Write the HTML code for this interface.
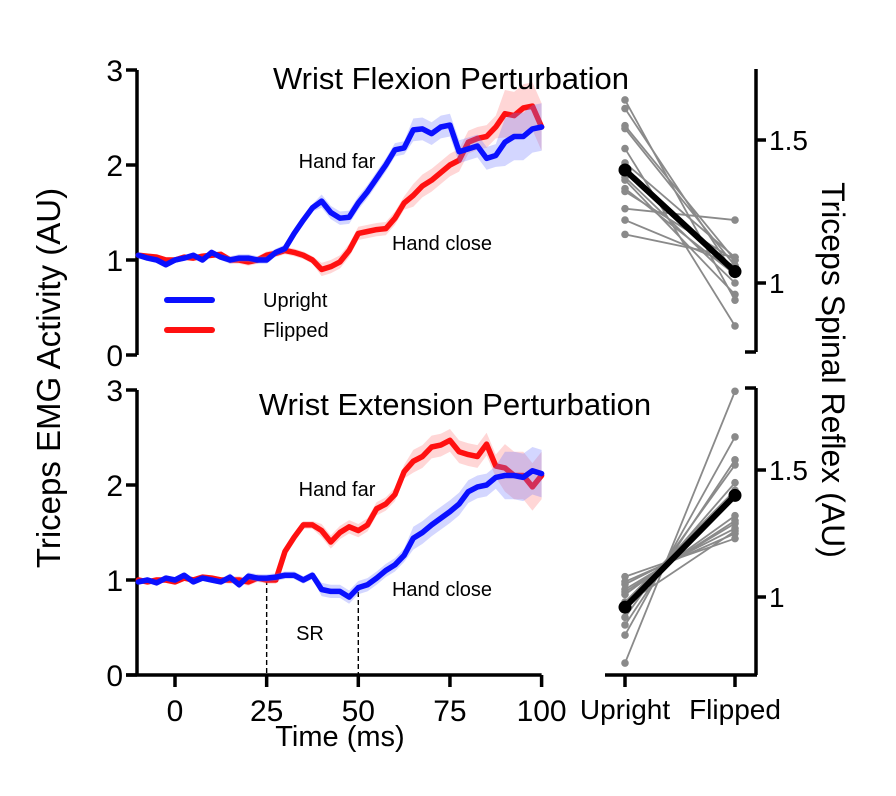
<!DOCTYPE html>
<html><head><meta charset="utf-8"><style>
html,body{margin:0;padding:0;background:#fff;}
svg{display:block;font-family:"Liberation Sans",Arial,sans-serif;}
</style></head><body>
<svg id="fig" width="896" height="796" viewBox="0 0 896 796" xmlns="http://www.w3.org/2000/svg"></svg>
<script>
// ---- data ----
const times = [-10,-7.5,-5,-2.5,0,2.5,5,7.5,10,12.5,15,17.5,20,22.5,25,27.5,30,32.5,35,37.5,40,42.5,45,47.5,50,52.5,55,57.5,60,62.5,65,67.5,70,72.5,75,77.5,80,82.5,85,87.5,90,92.5,95,97.5,100];
const flexUpright = [1.05,1.02,1.0,0.95,1.0,1.02,1.05,1.0,1.08,1.03,1.0,1.02,1.02,1.0,1.0,1.08,1.12,1.28,1.42,1.55,1.62,1.5,1.44,1.45,1.6,1.72,1.86,2.0,2.16,2.18,2.37,2.38,2.33,2.4,2.42,2.14,2.17,2.2,2.07,2.1,2.24,2.3,2.3,2.38,2.4];
const flexFlipped = [1.05,1.04,1.03,1.0,1.0,1.03,1.02,1.04,1.05,1.06,1.0,1.0,0.98,1.0,1.05,1.07,1.1,1.08,1.05,1.0,0.9,0.93,0.98,1.1,1.28,1.3,1.32,1.33,1.44,1.6,1.68,1.78,1.84,1.92,2.0,2.05,2.24,2.28,2.3,2.4,2.54,2.52,2.6,2.62,2.4];
const extUpright = [0.98,1.0,0.97,1.02,1.0,1.05,0.98,1.02,1.0,0.98,1.03,0.95,1.04,1.02,1.02,1.03,1.05,1.05,1.0,1.05,0.9,0.88,0.88,0.82,0.92,0.95,1.02,1.1,1.16,1.26,1.44,1.5,1.58,1.65,1.72,1.8,1.93,1.98,2.0,2.08,2.1,2.1,2.08,2.15,2.12];
const extFlipped = [1.0,0.98,1.0,1.0,0.98,1.02,1.0,1.03,1.02,1.0,1.0,1.0,0.98,1.02,1.0,1.0,1.3,1.45,1.58,1.58,1.52,1.4,1.5,1.56,1.52,1.58,1.75,1.8,1.9,2.14,2.25,2.3,2.4,2.42,2.47,2.35,2.32,2.3,2.43,2.2,2.18,2.1,2.1,1.98,2.1];
const semSteps = [0.03,0.04,0.07,0.12,0.25]; // band half-width per 25ms segment
const timeTicks = [0,25,50,75,100];
const emgTicks = [0,1,2,3];
const flexUprightPts = [1.64,1.61,1.55,1.54,1.47,1.42,1.37,1.36,1.33,1.32,1.26,1.22,1.17];
const flexFlippedPts = [0.94,1.03,1.08,1.06,0.85,1.09,1.0,0.96,1.03,1.08,1.22,1.06,1.09];
const flexMeans = [1.395,1.04];
const extUprightPts = [0.74,0.85,0.89,0.92,0.95,0.98,1.01,1.03,1.05,1.06,1.08,1.02,0.97];
const extFlippedPts = [1.81,1.63,1.54,1.52,1.45,1.42,1.32,1.29,1.27,1.25,1.23,1.30,1.26];
const extMeans = [0.96,1.40];
const reflexTicks = [1,1.5];

// ---- helpers ----
const svg = document.getElementById('fig');
const NS = 'http://www.w3.org/2000/svg';
function mk(tag, attrs, parent){const e=document.createElementNS(NS,tag);for(const k in attrs)e.setAttribute(k,attrs[k]);(parent||svg).appendChild(e);return e;}
function txt(s,x,y,size,anchor,parent){const t=mk('text',{x:x,y:y,'font-size':size,'text-anchor':anchor||'middle',fill:'#000'},parent);t.textContent=s;return t;}
const xT = t => 175 + (t)*3.666;
function yTop(v){return 355 - v*95;}
function yBot(v){return 675 - v*95;}
const yRT = v => 283 - (v-1)*286;
const yRB = v => 597 - (v-1)*254;

function drawSeries(vals, yf, color, band, name){
  const g=mk('g',{});
  
  
  let up='',dn='';
  times.forEach((t,i)=>{const s=semSteps[Math.min(4,Math.max(0,Math.floor((t+10)/25)))];up+=(i?'L':'M')+xT(t)+','+yf(vals[i]+s);});
  for(let i=times.length-1;i>=0;i--){const s=semSteps[Math.min(4,Math.max(0,Math.floor((times[i]+10)/25)))];dn+='L'+xT(times[i])+','+yf(vals[i]-s);}
  const b=mk('path',{d:up+dn+'Z',fill:band,stroke:'none'},g);
  
  
  let d='';times.forEach((t,i)=>{d+=(i?'L':'M')+xT(t)+','+yf(vals[i]);});
  const l=mk('path',{d:d,fill:'none',stroke:color,'stroke-width':5.5,'stroke-linejoin':'round','stroke-linecap':'round'},g);
  
  
}

// ---- top-left panel ----
const ax1=mk('g',{stroke:'#000','stroke-width':3.5});


mk('line',{x1:137,y1:yTop(3),x2:137,y2:yTop(0)},ax1);
emgTicks.forEach(v=>{mk('line',{x1:126,y1:yTop(v),x2:137,y2:yTop(v)},ax1);});
emgTicks.forEach(v=>{const t=txt(String(v),123,yTop(v)+11,30,'end');});
drawSeries(flexFlipped,yTop,'#ff1010','rgba(255,120,120,0.3)','flexion-flipped');
drawSeries(flexUpright,yTop,'#0a10ff','rgba(110,120,255,0.3)','flexion-upright');
let t1=txt('Wrist Flexion Perturbation',451,89,31);
let a1=txt('Hand far',337,168,20);
let a2=txt('Hand close',442,250,20);
// legend
const lg=mk('g',{});


mk('line',{x1:167,y1:300,x2:212,y2:300,stroke:'#0a10ff','stroke-width':6,'stroke-linecap':'round'},lg);
mk('line',{x1:167,y1:330,x2:212,y2:330,stroke:'#ff1010','stroke-width':6,'stroke-linecap':'round'},lg);
txt('Upright',263,307,20,'start',lg);
txt('Flipped',263,337,20,'start',lg);

// ---- bottom-left panel ----
const ax2=mk('g',{stroke:'#000','stroke-width':3.5});


mk('line',{x1:137,y1:yBot(3),x2:137,y2:yBot(0)},ax2);
mk('line',{x1:126,y1:yBot(0),x2:xT(100),y2:yBot(0)},ax2);
emgTicks.forEach(v=>{mk('line',{x1:126,y1:yBot(v),x2:137,y2:yBot(v)},ax2);});
timeTicks.forEach(v=>{mk('line',{x1:xT(v),y1:675,x2:xT(v),y2:687},ax2);});
emgTicks.forEach(v=>{const t=txt(String(v),123,yBot(v)+11,30,'end');});
timeTicks.forEach(v=>{const t=txt(String(v),xT(v),721,30);});
const dl=mk('g',{stroke:'#000','stroke-width':1.4,'stroke-dasharray':'5,3'});


mk('line',{x1:xT(25),y1:580,x2:xT(25),y2:675},dl);
mk('line',{x1:xT(50),y1:592,x2:xT(50),y2:675},dl);
drawSeries(extFlipped,yBot,'#ff1010','rgba(255,120,120,0.3)','extension-flipped');
drawSeries(extUpright,yBot,'#0a10ff','rgba(110,120,255,0.3)','extension-upright');
let t2=txt('Wrist Extension Perturbation',455,415,31);
let a3=txt('Hand far',337,496,20);
let a4=txt('Hand close',442,596,20);
let a5=txt('SR',310,640,20);
let xl=txt('Time (ms)',340,746,29);
let yl=txt('Triceps EMG Activity (AU)',0,0,33);yl.setAttribute('transform','translate(60,378) rotate(-90)');


// ---- right panels ----
const XU=625, XF=735;
function pairs(up,fl,means,yf,name){
  const g=mk('g',{});
  
  
  up.forEach((u,i)=>{mk('line',{x1:XU,y1:yf(u),x2:XF,y2:yf(fl[i]),stroke:'#8a8a8a','stroke-width':1.8},g);
    mk('circle',{cx:XU,cy:yf(u),r:3.8,fill:'#8a8a8a'},g);mk('circle',{cx:XF,cy:yf(fl[i]),r:3.8,fill:'#8a8a8a'},g);});
  const m=mk('g',{},g);
  
  
  mk('line',{x1:XU,y1:yf(means[0]),x2:XF,y2:yf(means[1]),stroke:'#000','stroke-width':6},m);
  mk('circle',{cx:XU,cy:yf(means[0]),r:6.5,fill:'#000'},m);
  mk('circle',{cx:XF,cy:yf(means[1]),r:6.5,fill:'#000'},m);
}
pairs(flexUprightPts,flexFlippedPts,flexMeans,yRT,'flexion-reflex-pairs');
pairs(extUprightPts,extFlippedPts,extMeans,yRB,'extension-reflex-pairs');
const ax3=mk('g',{stroke:'#000','stroke-width':3.5});


mk('line',{x1:756,y1:69,x2:756,y2:352},ax3);
mk('line',{x1:745,y1:352,x2:756,y2:352},ax3);
mk('line',{x1:756,y1:388,x2:756,y2:675},ax3);
mk('line',{x1:745,y1:388,x2:756,y2:388},ax3);
mk('line',{x1:605,y1:675,x2:757,y2:675},ax3);
mk('line',{x1:XU,y1:675,x2:XU,y2:687},ax3);
mk('line',{x1:XF,y1:675,x2:XF,y2:687},ax3);
reflexTicks.forEach(v=>{mk('line',{x1:756,y1:yRT(v),x2:766,y2:yRT(v)},ax3);mk('line',{x1:756,y1:yRB(v),x2:766,y2:yRB(v)},ax3);});
reflexTicks.forEach(v=>{const a=txt(String(v),769,yRT(v)+10,28,'start');
  const b=txt(String(v),769,yRB(v)+10,28,'start');});
let c1=txt('Upright',XU,719,28);
let c2=txt('Flipped',XF,719,28);
let yr=txt('Triceps Spinal Reflex  (AU)',0,0,32);yr.setAttribute('transform','translate(822,370) rotate(90)');

</script>
</body></html>
